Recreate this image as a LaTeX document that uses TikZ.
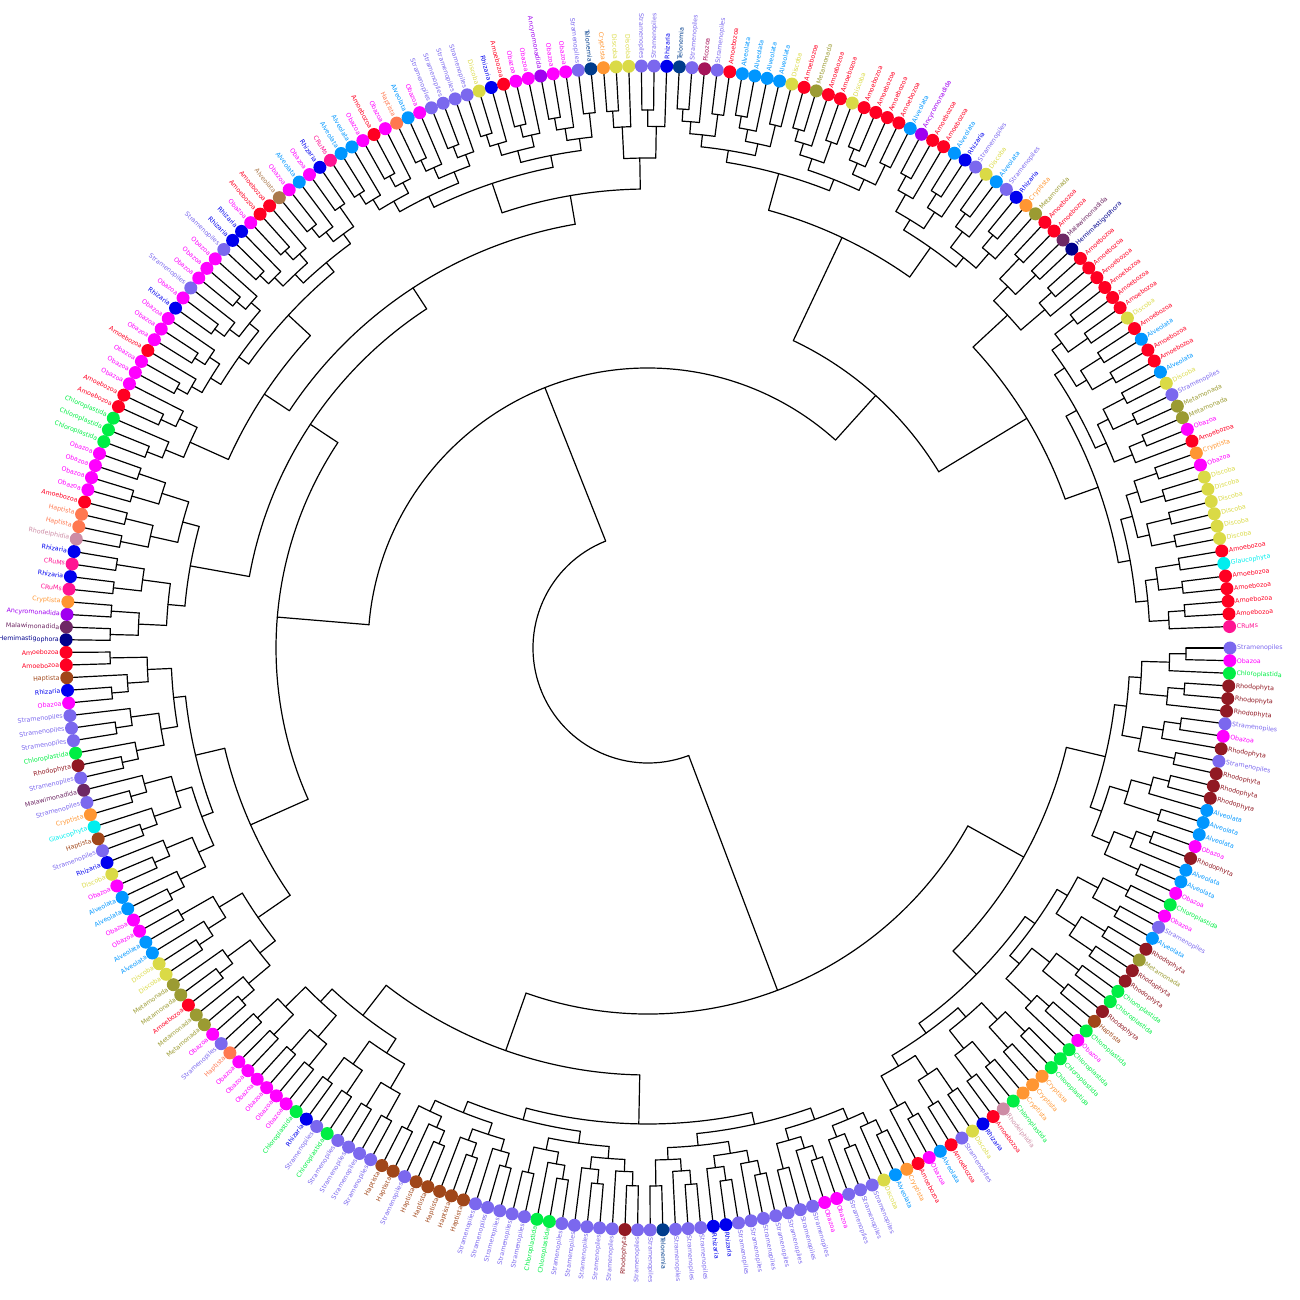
\documentclass[tikz,border=0pt]{standalone}
\usepackage{fontspec}
\setmainfont{DejaVu Sans}
% group colours
\definecolor{cS}{RGB}{123,104,238}
\definecolor{cO}{RGB}{255,0,255}
\definecolor{cC}{RGB}{0,238,68}
\definecolor{cR}{RGB}{145,25,35}
\definecolor{cA}{RGB}{0,150,255}
\definecolor{cM}{RGB}{255,0,34}
\definecolor{cZ}{RGB}{0,0,238}
\definecolor{cHs}{RGB}{160,70,25}
\definecolor{cHc}{RGB}{255,120,80}
\definecolor{cY}{RGB}{255,150,50}
\definecolor{cD}{RGB}{218,218,70}
\definecolor{cT}{RGB}{155,155,50}
\definecolor{cG}{RGB}{0,238,238}
\definecolor{cK}{RGB}{255,20,147}
\definecolor{cN}{RGB}{0,60,140}
\definecolor{cAc}{RGB}{160,0,240}
\definecolor{cMa}{RGB}{110,40,100}
\definecolor{cHe}{RGB}{0,0,140}
\definecolor{cRl}{RGB}{205,140,165}
\definecolor{cP}{RGB}{165,20,90}
\definecolor{cX}{RGB}{170,120,75}
% group names
\newcommand\lblS{Stramenopiles}
\newcommand\lblO{Obazoa}
\newcommand\lblC{Chloroplastida}
\newcommand\lblR{Rhodophyta}
\newcommand\lblA{Alveolata}
\newcommand\lblM{Amoebozoa}
\newcommand\lblZ{Rhizaria}
\newcommand\lblHs{Haptista}
\newcommand\lblHc{Haptista}
\newcommand\lblY{Cryptista}
\newcommand\lblD{Discoba}
\newcommand\lblT{Metamonada}
\newcommand\lblG{Glaucophyta}
\newcommand\lblK{CRuMs}
\newcommand\lblN{Telonemia}
\newcommand\lblAc{Ancyromonadida}
\newcommand\lblMa{Malawimonadida}
\newcommand\lblHe{Hemimastigophora}
\newcommand\lblRl{Rhodelphidia}
\newcommand\lblP{Picozoa}
\newcommand\lblX{Alveolata}
\def\leaves{S,O,C,R,R,R,S,O,R,S,
R,R,R,A,A,A,O,R,A,A,
O,C,O,S,A,R,T,R,R,C,
C,R,Hs,C,O,C,C,C,Y,Y,
Y,C,Rl,M,Z,D,S,M,A,O,
M,Y,A,D,S,S,S,O,O,S,
S,S,S,S,S,S,Z,Z,S,S,
S,N,S,S,R,S,S,S,S,S,
C,C,S,S,S,S,S,Hs,Hs,Hs,
Hs,Hs,S,Hs,Hs,S,S,S,S,C,
S,Z,C,O,O,O,O,O,O,Hc,
S,O,T,T,M,T,T,D,D,A,
A,O,O,A,A,O,D,Z,S,Hs,
G,Y,S,Ma,S,R,C,S,S,S,
O,Z,Hs,M,M,He,Ma,Ac,Y,K,
Z,K,Z,Rl,Hc,Hc,M,O,O,O,
O,C,C,C,M,M,O,O,O,M,
O,O,O,Z,O,S,O,O,O,S,
Z,Z,O,M,M,X,O,A,O,Z,
K,A,A,O,M,O,Hc,A,O,S,
S,S,S,D,Z,M,O,O,Ac,O,
O,S,N,Y,D,D,S,S,Z,N,
S,P,S,M,A,A,A,A,D,M,
T,M,M,D,M,M,M,M,A,Ac,
M,M,A,Z,S,D,A,S,Z,Y,
T,M,M,Ma,He,M,M,M,M,M,
M,D,M,A,M,M,A,D,S,T,
T,O,M,Y,O,D,D,D,D,D,
D,M,G,M,M,M,M,K}
\def\dA{1.247}
\def\Rleaf{582}
% radial edge at leaf position #1, from radius #2 to #3
\newcommand\edgeto[3]{%
  \pgfmathsetmacro\degA{-(#1-1)*\dA}%
  \draw[edge] (\degA:#2) -- (\degA:#3);}
% arc between leaf positions #1 and #2 at radius #3
\newcommand\arcat[3]{%
  \pgfmathsetmacro\degB{-(#1-1)*\dA}%
  \pgfmathsetmacro\degC{-(#2-1)*\dA}%
  \draw[edge] (\degB:#3) arc[start angle=\degB,end angle=\degC,radius=#3];}
% balanced subtree over leaves #1..#2 hanging from radius #3
\newcommand\subtree[3]{%
  \begingroup
  \edef\fst{#1}\edef\lst{#2}\edef\prad{#3}%
  \ifnum\fst=\lst\relax
    \edgeto{\fst}{\prad}{\Rleaf}%
    \xdef\retang{\fst}%
  \else
    \pgfmathtruncatemacro\midx{(\fst+\lst)/2}%
    \pgfmathtruncatemacro\midy{\midx+1}%
    \pgfmathsetmacro\rrad{max(566-28*ln(\lst-\fst+1)/ln(2),\prad+12)}%
    \subtree{\fst}{\midx}{\rrad}\let\angB\retang
    \subtree{\midy}{\lst}{\rrad}\let\angC\retang
    \pgfmathsetmacro\angA{(\angB+\angC)/2}%
    \arcat{\angB}{\angC}{\rrad}%
    \edgeto{\angA}{\prad}{\rrad}%
    \xdef\retang{\angA}%
  \fi
  \endgroup}
% subtree whose top node sits at a given radius: first, last, radius, parent radius
\newcommand\snode[4]{%
  \begingroup
  \edef\fst{#1}\edef\lst{#2}\edef\nrad{#3}\edef\prad{#4}%
  \pgfmathtruncatemacro\midx{(\fst+\lst)/2}%
  \pgfmathtruncatemacro\midy{\midx+1}%
  \subtree{\fst}{\midx}{\nrad}\let\angB\retang
  \subtree{\midy}{\lst}{\nrad}\let\angC\retang
  \pgfmathsetmacro\angA{(\angB+\angC)/2}%
  \arcat{\angB}{\angC}{\nrad}%
  \edgeto{\angA}{\prad}{\nrad}%
  \xdef\retang{\angA}%
  \endgroup}
% hand placed node: radius, parent radius, two children
\newcommand\mnode[4]{%
  \begingroup
  #3\let\angB\retang
  #4\let\angC\retang
  \pgfmathsetmacro\angA{(\angB+\angC)/2}%
  \arcat{\angB}{\angC}{#1}%
  \edgeto{\angA}{#2}{#1}%
  \xdef\retang{\angA}%
  \endgroup}
\begin{document}
\begin{tikzpicture}[x=1pt,y=1pt,line cap=round,
  edge/.style={line width=1.2pt,black},
  lbl/.style={font=\fontsize{6.3}{7}\selectfont,inner sep=0pt}]
\useasboundingbox (-648,-652) rectangle (652,648);
% tree
\mnode{115}{115}
  {\mnode{366}{115}
    {\mnode{430}{366}{\snode{1}{21}{470}{430}}{\snode{22}{51}{463}{430}}}
    {\mnode{427}{366}{\snode{52}{95}{476}{427}}{\snode{96}{111}{465}{427}}}}
  {\mnode{280}{115}
    {\mnode{372}{280}
      {\mnode{435}{372}{\snode{112}{122}{474}{435}}{\snode{123}{145}{465}{435}}}
      {\mnode{405}{372}
        {\snode{146}{161}{465}{405}}
        {\mnode{430}{405}
          {\mnode{460}{430}{\snode{162}{167}{502}{460}}{\snode{168}{190}{490}{460}}}
          {\mnode{459}{430}{\snode{191}{213}{490}{459}}{\snode{214}{219}{490}{459}}}}}}
    {\mnode{340}{280}
      {\mnode{454}{340}{\snode{220}{239}{492}{454}}{\snode{240}{251}{490}{454}}}
      {\mnode{443}{340}{\snode{252}{258}{490}{443}}{\snode{259}{288}{478}{443}}}}}
% leaves
\foreach \cd [count=\i] in \leaves {
  \pgfmathsetmacro\lang{(\i-1)*\dA}
  \fill[c\cd] (-\lang:\Rleaf) circle[radius=6.5];
  \pgfmathtruncatemacro\rside{(\lang<90 || \lang>270) ? 1 : 0}
  \ifnum\rside=1
    \node[lbl,text=c\cd,anchor=west,rotate=-\lang] at (-\lang:589) {\csname lbl\cd\endcsname};
  \else
    \node[lbl,text=c\cd,anchor=east,rotate=180-\lang] at (-\lang:589) {\csname lbl\cd\endcsname};
  \fi
}
\end{tikzpicture}
\end{document}
